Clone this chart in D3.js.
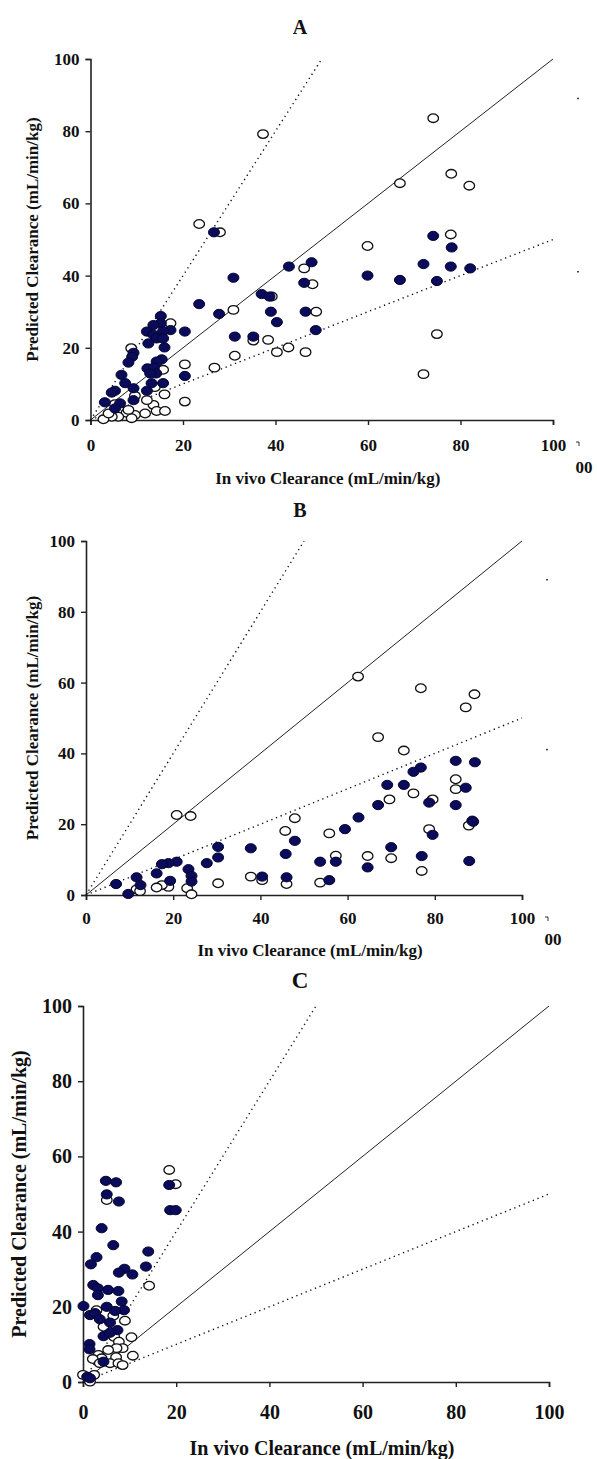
<!DOCTYPE html>
<html>
<head>
<meta charset="utf-8">
<script src="https://cdn.jsdelivr.net/npm/d3@7"></script>
<style>
  body { margin: 0; background: #fff; }
  svg { display: block; }
  text { font-family: "Liberation Serif", "Times New Roman", serif; font-weight: bold; fill: #111; }
</style>
</head>
<body>
<svg id="chart" width="597" height="1459"></svg>
<script>
// tick values shared by all panels
const ticks = [0, 20, 40, 60, 80, 100];
const refSlopes = [0.5, 1, 2];

// panel A: [in vivo, predicted]
const aFilled = [
  [26.7, 52], [74.1, 51], [78.1, 47.8], [42.9, 42.5], [47.8, 43.7], [72, 43.2], [77.9, 42.5], [82.1, 42],
  [59.9, 40], [66.9, 38.8], [74.9, 38.5], [46.2, 38], [46.5, 30], [48.7, 24.9], [40.3, 27.1],
  [30.9, 39.4], [23.5, 32.1], [27.8, 29.4], [37, 34.9], [38.7, 34.2], [39, 30], [31.2, 23.1], [35.2, 23.1],
  [20.4, 24.5], [20.4, 12.2], [17.3, 24.9],
  [15.2, 28.8], [15.2, 26.8], [13.6, 26.3], [12.2, 24.5], [13.6, 23.6], [15.7, 24.6], [14.3, 22.6], [15.7, 22.6],
  [12.5, 21.2], [16, 20.1], [9.3, 18.6], [9, 17.5], [8.2, 15.9], [15.4, 16.8], [14.3, 16.2], [12.3, 14.3],
  [13.7, 14.5], [14.2, 12.9], [12.9, 12.9], [6.7, 12.5], [7.5, 10.2], [15.7, 10.2], [13.2, 10.2], [12.2, 8.1],
  [9.3, 8.8], [5.3, 8.1], [4.6, 7.6], [9.3, 5.5], [3.1, 4.9], [6.4, 4.6], [5.3, 3.2]
];
const aOpen = [
  [37.3, 79.2], [23.5, 54.3], [28, 52], [74.1, 83.6], [78, 68.2], [81.9, 64.9], [66.9, 65.6], [77.9, 51.4],
  [59.9, 48.2], [46.2, 42], [48, 37.6], [48.8, 30], [74.9, 23.8], [42.8, 20.1], [46.5, 18.8], [72, 12.7],
  [40.3, 18.8], [30.9, 30.5], [39.2, 34.2], [35.2, 22], [38.4, 22.2], [31.2, 17.8], [26.8, 14.5],
  [20.4, 15.4], [20.4, 5.1], [17.3, 26.8],
  [8.8, 19.9], [15.7, 13.9], [13.9, 9.1], [16, 7.1], [13.6, 4.2], [11.8, 1.8], [14.3, 2.5], [16.1, 2.5],
  [9.6, 1.4], [7.8, 2], [6, 0.9], [4.6, 0.9], [2.8, 0.2], [8.9, 0.5], [9.6, 6.7], [8.2, 2.8], [3.9, 1.8],
  [5.3, 4.4], [12.2, 5.5]
];

// panel B
const bFilled = [
  [84.8, 37.9], [89.2, 37.5], [76.8, 36], [75.1, 34.8], [87.1, 30.3], [69.1, 31.1], [72.9, 31.1], [67, 25.4],
  [78.7, 26.1], [84.8, 25.4], [62.5, 21.9], [59.4, 18.6], [47.9, 15.3], [79.5, 17], [88.6, 21], [88.8, 20.7],
  [45.8, 11.6], [70, 13.5], [53.7, 9.4], [57.3, 9.4], [64.6, 7.8], [77, 11], [87.9, 9.6], [46, 5], [55.8, 4.2],
  [37.8, 13.2], [40.4, 5.2], [30.3, 13.6], [30.3, 10.6], [27.7, 9], [20.8, 9.4], [18.9, 9], [17.4, 8.7],
  [23.5, 7.3], [24.2, 5.4], [24.2, 3.8], [16.2, 6.1], [19.3, 4], [11.6, 5], [12.5, 2.8], [6.9, 3.1], [9.7, 0.3]
];
const bOpen = [
  [62.4, 61.7], [76.8, 58.4], [89.1, 56.7], [87.1, 53], [67, 44.6], [72.9, 40.8], [84.8, 32.7], [84.8, 29.9],
  [75.1, 28.7], [69.6, 27], [79.5, 27], [47.9, 21.7], [45.7, 18.1], [55.8, 17.4], [78.7, 18.6], [87.8, 19.6],
  [70, 10.4], [57.3, 11.1], [64.6, 11], [77, 6.8], [46, 3.1], [53.7, 3.5],
  [20.8, 22.6], [24, 22.3], [37.8, 5.2], [40.4, 4.2], [30.3, 3.3], [23.2, 1.9], [24.2, 0.2], [18.9, 2.3],
  [17.4, 2.8], [16.2, 2.1], [11.6, 1.6], [12.4, 1.1]
];

// panel C
const cFilled = [
  [4.9, 53.5], [7.1, 53.1], [5.1, 49.9], [7.7, 48], [18.5, 52.4], [18.7, 45.7], [19.9, 45.7],
  [4, 40.9], [6.5, 36.4], [14, 34.7], [13.5, 30.7], [2.9, 33.2], [1.7, 31.3], [8.9, 30.1], [7.7, 29.1],
  [10.6, 28.6], [2.2, 25.8], [3.2, 24.9], [5.4, 24.5], [7.6, 24.2], [3.2, 23.1], [0.1, 20.2], [5.1, 20],
  [8.3, 21.4], [8.8, 19.1], [6.9, 18.9], [1.5, 17.8], [2.6, 18.3], [3.6, 16.7], [5.8, 15.8], [7.4, 13.8],
  [4.4, 12.2], [5.8, 13.1], [1.4, 10.1], [1.4, 8.7], [4.4, 5.4], [0.9, 1.4], [1.5, 1]
];
const cOpen = [
  [5.1, 48.4], [18.5, 56.4], [19.9, 52.6], [14.2, 25.6], [2.9, 19.1], [9, 16.3], [6.5, 17.6], [5.4, 13.6],
  [4.4, 14.7], [6.7, 12], [10.4, 11.9], [7.7, 10.7], [8.5, 9], [7.2, 9], [5.4, 8.5], [3.3, 7.2], [4, 6.3],
  [2.1, 6.1], [10.7, 7], [7.1, 6.6], [5.8, 5], [7.6, 5], [8.5, 4.5], [3.6, 5], [0, 1.9], [2.4, 1.9], [1.5, 0.1]
];

const svg = d3.select("#chart");
svg.append("rect").attr("width", 597).attr("height", 1459).attr("fill", "#fff");

const panels = [
  { title: "A", filled: aFilled, open: aOpen, x0: 90.5, x1: 553, y0: 420, y1: 59, fs: 17, titleY: 34,
    tickPad: 14, xlabY: 484, ylabX: 38 , stray: true },
  { title: "B", filled: bFilled, open: bOpen, x0: 86, x1: 522, y0: 895, y1: 541, fs: 17, titleY: 517,
    tickPad: 12, xlabY: 956, ylabX: 38, stray: true },
  { title: "C", filled: cFilled, open: cOpen, x0: 83, x1: 549, y0: 1382, y1: 1006, fs: 20, titleY: 988,
    tickPad: 18, xlabY: 1455, ylabX: 26, stray: false }
];

panels.forEach((p) => {
  const x = d3.scaleLinear().domain([0, 100]).range([p.x0, p.x1]);
  const y = d3.scaleLinear().domain([0, 100]).range([p.y0, p.y1]);
  const g = svg.append("g");

  // title
  g.append("text")
    .attr("x", 300).attr("y", p.titleY)
    .attr("text-anchor", "middle")
    .style("font-size", p.fs + 3 + "px")
    .text(p.title);

  // axes
  const xAxis = g.append("g")
    .attr("transform", `translate(0,${p.y0})`)
    .call(d3.axisBottom(x).tickValues(ticks).tickSize(5).tickPadding(p.tickPad));
  const yAxis = g.append("g")
    .attr("transform", `translate(${p.x0},0)`)
    .call(d3.axisLeft(y).tickValues(ticks).tickSize(5).tickPadding(6));
  [xAxis, yAxis].forEach((a) => {
    a.select(".domain").attr("stroke", "#222").attr("stroke-width", 1.6);
    a.selectAll(".tick line").attr("stroke", "#222").attr("stroke-width", 1.4);
    a.selectAll("text").style("font-size", p.fs + "px")
      .style("font-family", '"Liberation Serif", serif').style("font-weight", "bold").attr("fill", "#111");
  });

  // axis titles
  g.append("text")
    .attr("x", (p.x0 + p.x1) / 2 + 6).attr("y", p.xlabY)
    .attr("text-anchor", "middle")
    .style("font-size", p.fs + "px")
    .text("In vivo Clearance (mL/min/kg)");
  g.append("text")
    .attr("transform", `translate(${p.ylabX},${(p.y0 + p.y1) / 2}) rotate(-90)`)
    .attr("text-anchor", "middle")
    .style("font-size", p.fs + "px")
    .text("Predicted Clearance (mL/min/kg)");

  // reference lines: 1:1 solid, 2-fold dotted
  refSlopes.forEach((s) => {
    const xe = Math.min(100, 100 / s);
    g.append("line")
      .attr("x1", x(0)).attr("y1", y(0))
      .attr("x2", x(xe)).attr("y2", y(xe * s))
      .attr("stroke", s === 1 ? "#222" : "#111")
      .attr("stroke-width", s === 1 ? 1 : 1.4)
      .attr("stroke-dasharray", s === 1 ? null : "1.3,3.7");
  });

  // stray bits left over from the cropped source image
  if (p.stray) {
    g.append("text").attr("x", x(100) + 31).attr("y", p.xlabY - 11)
      .style("font-size", p.fs + "px").attr("text-anchor", "middle").text("00");
    g.append("path")
      .attr("d", `M${x(100) + 23},${p.y0 + 22}h3v4`)
      .attr("fill", "none").attr("stroke", "#333").attr("stroke-width", 1);
    [[100, 89], [100, 41]].forEach(([a, b]) => {
      g.append("rect").attr("x", x(a) + 24).attr("y", y(b) - 1).attr("width", 2).attr("height", 1.5).attr("fill", "#444");
    });
  }

  // points
  g.append("g").selectAll("ellipse")
    .data(p.open).join("ellipse")
    .attr("cx", (d) => x(d[0])).attr("cy", (d) => y(d[1]))
    .attr("rx", 5.3).attr("ry", 4.3)
    .attr("fill", "#fff").attr("stroke", "#111").attr("stroke-width", 1.3);
  g.append("g").selectAll("ellipse")
    .data(p.filled).join("ellipse")
    .attr("cx", (d) => x(d[0])).attr("cy", (d) => y(d[1]))
    .attr("rx", 5.5).attr("ry", 4.6)
    .attr("fill", "#0b0b5c").attr("stroke", "#050530").attr("stroke-width", 1);
});
</script>
</body>
</html>
